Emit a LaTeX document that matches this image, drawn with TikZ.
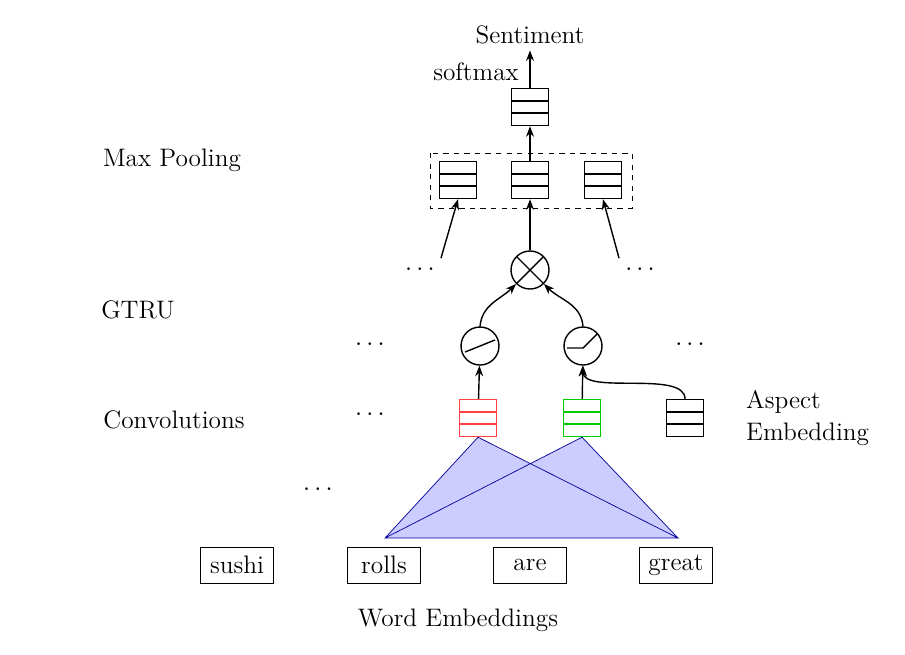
\documentclass[tikz,border=0pt]{standalone}
\usepackage{tikz}
\usetikzlibrary{arrows.meta}
\begin{document}
\begin{tikzpicture}[x=0.02cm,y=-0.02cm,font=\Large,>={Stealth[length=6pt]}]
      \tikzstyle{cell}=[rectangle,draw=#1,thick,minimum width=0.74cm,minimum height=0.74cm,inner sep=0pt,
        path picture={\draw[#1,thick] ([yshift=0.123cm]path picture bounding box.west) -- ([yshift=0.123cm]path picture bounding box.east)
          ([yshift=-0.123cm]path picture bounding box.west) -- ([yshift=-0.123cm]path picture bounding box.east);}]
      \tikzstyle{op}=[circle,draw,thick,minimum size=0.76cm,inner sep=0pt]
      \tikzstyle{word}=[rectangle,draw,minimum width=1.45cm,minimum height=0.72cm]
      \tikzstyle{flow}=[->,thick]
      \useasboundingbox (0,0) rectangle (905,654);
      % layer names
      \node (lmax) at (172,160) {Max Pooling};
      \node (lgtru) at (138,310) {GTRU};
      \node (lconv) at (174,420) {Convolutions};
      \node[align=left,anchor=west] (lasp) at (740,418) {Aspect\\Embedding};
      \node (lword) at (458,620) {Word Embeddings};
      % output
      \node (sent) at (530,35) {Sentiment};
      \node (soft) at (476,72) {softmax};
      \node[cell=black] (top) at (530,107) {};
      \draw[dashed] (430,153) rectangle (632,208);
      \node[cell=black] (p1) at (458,180) {};
      \node[cell=black] (p2) at (530,180) {};
      \node[cell=black] (p3) at (603,180) {};
      % gating
      \node[op,path picture={\draw[thick] (path picture bounding box.north west) -- (path picture bounding box.south east)
        (path picture bounding box.north east) -- (path picture bounding box.south west);}] (mul) at (530,270) {};
      \node[op,path picture={\draw[thick] ([xshift=-0.3cm,yshift=-0.12cm]path picture bounding box.center)
        .. controls +(0.3,0) and +(-0.3,0) .. ([xshift=0.3cm,yshift=0.12cm]path picture bounding box.center);}] (tanh) at (480,346) {};
      \node[op,path picture={\draw[thick] ([xshift=-0.32cm,yshift=-0.04cm]path picture bounding box.center)
        -- ([yshift=-0.04cm]path picture bounding box.center) -- ([xshift=0.3cm,yshift=0.26cm]path picture bounding box.center);}] (relu) at (583,346) {};
      \node (d1) at (420,270) {$\cdots$};
      \node (d2) at (640,270) {$\cdots$};
      \node (d3) at (370,345) {$\cdots$};
      \node (d4) at (690,345) {$\cdots$};
      \node (d5) at (370,415) {$\cdots$};
      \node (d6) at (318,490) {$\cdots$};
      % convolutions
      \node[cell=red!75] (cr) at (478,418) {};
      \node[cell=green!80!black] (cg) at (582,418) {};
      \node[cell=black] (asp) at (685,418) {};
      % words
      \node[word] (sushi) at (237,565) {sushi};
      \node[word] (rolls) at (384,565) {rolls};
      \node[word] (are) at (530,565) {are};
      \node[word] (great) at (676,565) {great};
      \coordinate (bl) at (385,538);
      \coordinate (br) at (678,538);
      \fill[blue!20] (bl) -- (cr.south) -- (br) -- cycle (bl) -- (cg.south) -- (br) -- cycle;
      \draw[blue!60!black] (bl) -- (cr.south) -- (br) -- cycle (bl) -- (cg.south) -- (br);
      % connections
      \draw[flow] (top) -- (sent);
      \draw[flow] (p2) -- (top);
      \draw[flow] (d1.north east) -- (p1.south);
      \draw[flow] (mul) -- (p2);
      \draw[flow] (d2.north west) -- (p3.south);
      \draw[flow] (tanh.north) to[out=85,in=-135] (mul.south west);
      \draw[flow] (relu.north) to[out=95,in=-45] (mul.south east);
      \draw[flow] (cr) -- (tanh);
      \draw[flow] (cg) -- (relu);
      \draw[flow] (asp.north) .. controls (685,370) and (583,395) .. (relu.south);
\end{tikzpicture}
\end{document}
